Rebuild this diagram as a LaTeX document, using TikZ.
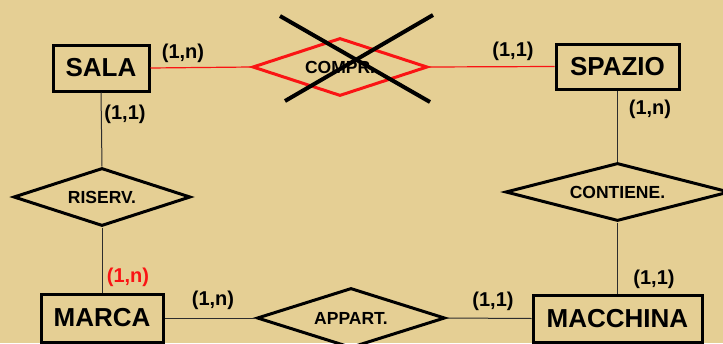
\documentclass[tikz,border=0pt]{standalone}
\usepackage{fontspec}
\setmainfont{Liberation Sans}
\usetikzlibrary{shapes.geometric}

\definecolor{parchment}{RGB}{229,207,148}
\definecolor{relred}{RGB}{250,20,20}
\definecolor{linkgray}{RGB}{45,45,45}

\tikzset{
  entity/.style={draw=black, line width=3pt, inner sep=0pt,
    font=\fontsize{26}{28}\selectfont\bfseries},
  relation/.style={diamond, aspect=3, draw=black, line width=3pt, inner sep=0pt,
    font=\fontsize{17.5}{20}\selectfont\bfseries},
  card/.style={inner sep=0pt, font=\fontsize{20}{22}\selectfont\bfseries},
  link/.style={draw=linkgray, line width=1pt},
  redlink/.style={draw=relred, line width=1.2pt},
  crossout/.style={draw=black, line width=4pt},
}

\begin{document}
\begin{tikzpicture}[x=1pt, y=-1pt]
  % background sheet
  \fill[parchment] (0,0) rectangle (723,343);
  \useasboundingbox (0,0) rectangle (723,343);

  % entities
  \node[entity, minimum width=96pt,  minimum height=46pt] (sala)     at (101,68)    {SALA};
  \node[entity, minimum width=123pt, minimum height=45pt] (spazio)   at (617.5,66.5) {SPAZIO};
  \node[entity, minimum width=122pt, minimum height=48pt] (marca)    at (102,318)   {MARCA};
  \node[entity, minimum width=169pt, minimum height=47pt] (macchina) at (617.5,318.5) {MACCHINA};

  % relationships
  \node[relation, draw=relred, minimum width=175pt, minimum height=58pt] (compr) at (340,67) {COMPR.};
  \node[relation, minimum width=177pt, minimum height=58pt] (riserv)   at (102,197) {RISERV.};
  \node[relation, minimum width=224pt, minimum height=58pt] (contiene) at (617.5,192) {CONTIENE.};
  \node[relation, minimum width=188pt, minimum height=60pt] (appart)   at (351,318) {APPART.};

  % connectors
  \draw[redlink] (sala.east) -- (compr.west);
  \draw[redlink] (compr.east) -- (spazio.west);
  \draw[link] (sala.south) -- (riserv.north);
  \draw[link] (riserv.south) -- (marca.north);
  \draw[link] (spazio.south) -- (contiene.north);
  \draw[link] (contiene.south) -- (macchina.north);
  \draw[link] (marca.east) -- (appart.west);
  \draw[link] (appart.east) -- (macchina.west);

  % cross over the removed relationship
  \coordinate (xa1) at (280,16);
  \coordinate (xa2) at (430,102);
  \coordinate (xb1) at (285,101);
  \coordinate (xb2) at (433,15);
  \draw[crossout] (xa1) -- (xa2);
  \draw[crossout] (xb1) -- (xb2);

  % cardinalities
  \node[card] (c1) at (183,53.5) {(1,n)};
  \node[card] (c2) at (513,51)   {(1,1)};
  \node[card] (c3) at (125,114)  {(1,1)};
  \node[card] (c4) at (650,109)  {(1,n)};
  \node[card, text=relred] (c5) at (128,277.5) {(1,n)};
  \node[card] (c6) at (213,300)  {(1,n)};
  \node[card] (c7) at (493,301)  {(1,1)};
  \node[card] (c8) at (654,279)  {(1,1)};
\end{tikzpicture}
\end{document}
